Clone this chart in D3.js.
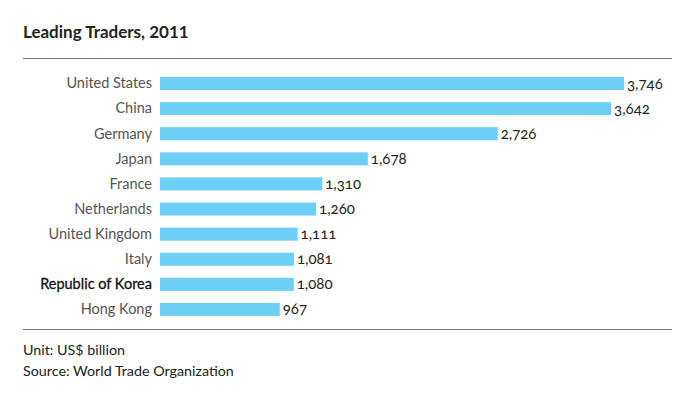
<!DOCTYPE html>
<html>
<head>
    <meta charset="utf-8">
    <title>Leading Traders, 2011</title>
    <script src="https://d3js.org/d3.v7.min.js"></script>
    <style>
        body {
            margin: 0;
            background-color: #ffffff;
        }
        text {
            font-family: Lato, "Open Sans", sans-serif;
        }
    </style>
</head>
<body>
    <svg id="chart" width="700" height="396"></svg>
    <script>
        // data
        var countries = ["United States", "China", "Germany", "Japan", "France",
            "Netherlands", "United Kingdom", "Italy", "Republic of Korea", "Hong Kong"];
        var values = [3746, 3642, 2726, 1678, 1310, 1260, 1111, 1081, 1080, 967];
        var title = "Leading Traders, 2011";
        var notes = ["Unit: US$ billion", "Source: World Trade Organization"];

        var svg = d3.select("#chart");

        var xScale = d3.scaleLinear().domain([0, 3746]).range([160, 624]);
        var yScale = d3.scaleBand().domain(countries).range([71, 322]).paddingInner(0.48).paddingOuter(0.24);

        svg.append("text")
            .attr("x", 23).attr("y", 38)
            .style("font-size", "17px").style("font-weight", "bold")
            .style("fill", "#222")
            .text(title);

        svg.append("line")
            .attr("x1", 23).attr("x2", 672).attr("y1", 58.5).attr("y2", 58.5)
            .style("stroke", "#777").style("stroke-width", 1.2);

        svg.append("line")
            .attr("x1", 23).attr("x2", 672).attr("y1", 329.5).attr("y2", 329.5)
            .style("stroke", "#777").style("stroke-width", 1.2);

        var data = countries.map(function(c, i) { return { name: c, value: values[i] }; });

        svg.selectAll("rect.bar")
            .data(data)
            .enter()
            .append("rect")
            .attr("class", "bar")
            .attr("x", xScale(0))
            .attr("y", function(d) { return yScale(d.name); })
            .attr("width", function(d) { return xScale(d.value) - xScale(0); })
            .attr("height", yScale.bandwidth())
            .style("fill", "#6dcff6");

        svg.selectAll("text.label")
            .data(data)
            .enter()
            .append("text")
            .attr("class", "label")
            .attr("x", 152)
            .attr("y", function(d) { return yScale(d.name) + yScale.bandwidth() / 2; })
            .attr("dy", "0.33em")
            .attr("text-anchor", "end")
            .style("font-size", "14.5px")
            .style("fill", function(d) { return d.name == "Republic of Korea" ? "#111" : "#555"; })
            .style("stroke", function(d) { return d.name == "Republic of Korea" ? "#111" : "none"; })
            .style("stroke-width", 0.3)
            .text(function(d) { return d.name; });

        svg.selectAll("text.value")
            .data(data)
            .enter()
            .append("text")
            .attr("class", "value")
            .attr("x", function(d) { return xScale(d.value) + 3; })
            .attr("y", function(d) { return yScale(d.name) + yScale.bandwidth() / 2; })
            .attr("dy", "0.33em")
            .style("font-size", "15px")
            .style("fill", "#222")
            .style("font-variant-numeric", "oldstyle-nums")
            .text(function(d) { return d3.format(",")(d.value); });

        svg.selectAll("text.note")
            .data(notes)
            .enter()
            .append("text")
            .attr("class", "note")
            .attr("x", 23)
            .attr("y", function(d, i) { return 355 + i * 21; })
            .style("font-size", "14.3px")
            .style("fill", "#222")
            .text(function(d) { return d; });
    </script>
</body>
</html>
